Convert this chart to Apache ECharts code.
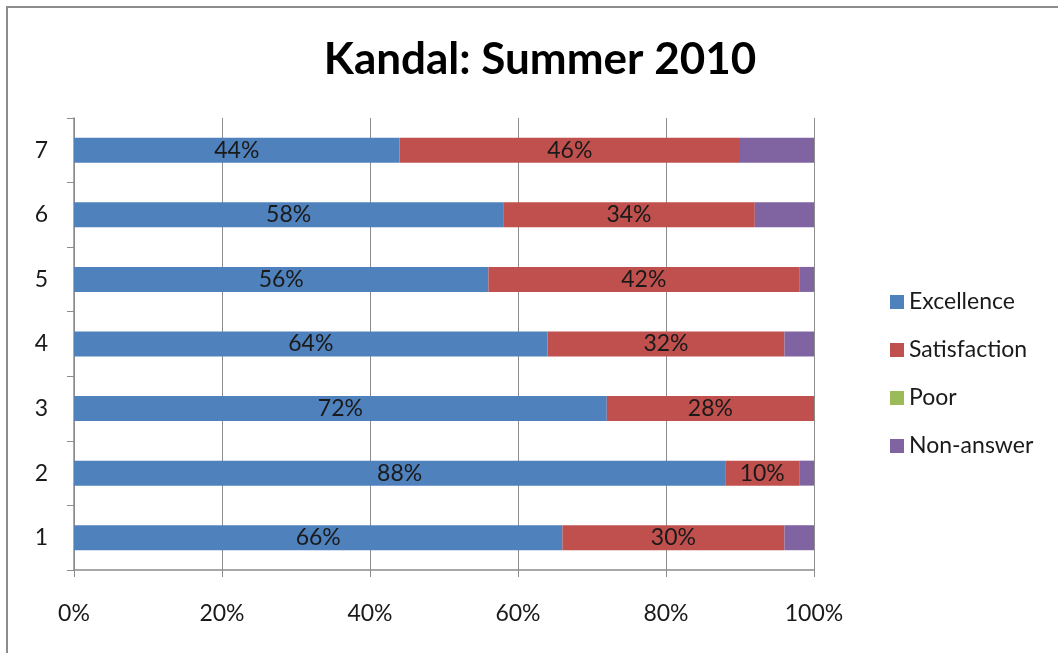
<!DOCTYPE html>
<html>
<head>
<meta charset="utf-8">
<script src="https://cdn.jsdelivr.net/npm/echarts@6/dist/echarts.min.js"></script>
<style>
  html, body { margin: 0; padding: 0; background: #fff; }
  #chart { width: 1058px; height: 653px; }
  .frame { position: absolute; left: 6px; top: 6px; right: -10px; bottom: -10px; border: 2px solid #8c8c8c; pointer-events: none; }
</style>
</head>
<body>
<div id="chart"></div>
<div class="frame"></div>
<script>
// survey rounds, bottom to top
const categories = ['1', '2', '3', '4', '5', '6', '7']
const excellence = [66, 88, 72, 64, 56, 58, 44]
const satisfaction = [30, 10, 28, 32, 42, 34, 46]
const poor = [0, 0, 0, 0, 0, 0, 0]
const nonAnswer = [4, 2, 0, 4, 2, 8, 10]
const xTicks = [0, 20, 40, 60, 80, 100]

const font = 'Lato, "Open Sans", sans-serif'

const labelStyle = {
  show: true,
  position: 'inside',
  color: '#1a1a1a',
  fontSize: 23,
  fontFamily: font,
  formatter: p => p.value > 0 ? p.value + '%' : ''
}

const mkSeries = (name, data, color, withLabel) => ({
  name,
  type: 'bar',
  stack: 'total',
  data,
  barWidth: 25,
  itemStyle: { color },
  label: withLabel ? labelStyle : { show: false }
})

const chart = echarts.init(document.getElementById('chart'))
chart.setOption({
  animation: false,
  title: {
    text: 'Kandal: Summer 2010',
    left: 535,
    top: 33,
    textAlign: 'center',
    textStyle: { fontFamily: font, fontSize: 44, fontWeight: 'bold', color: '#000' }
  },
  legend: {
    orient: 'vertical',
    left: 885,
    top: 285,
    itemWidth: 14,
    itemHeight: 14,
    itemGap: 24,
    icon: 'rect',
    textStyle: { fontFamily: font, fontSize: 23, lineHeight: 24, color: '#1a1a1a' }
  },
  grid: { left: 74, right: 244, top: 118, bottom: 83 },
  xAxis: {
    type: 'value',
    min: xTicks[0],
    max: xTicks[xTicks.length - 1],
    interval: 20,
    axisLine: { show: true, lineStyle: { color: '#8c8c8c', width: 1.5 } },
    axisTick: { show: true, length: 7, lineStyle: { color: '#8c8c8c' } },
    splitLine: { show: true, lineStyle: { color: '#8c8c8c', width: 1 } },
    axisLabel: {
      margin: 32,
      fontFamily: font,
      fontSize: 23,
      color: '#1a1a1a',
      formatter: v => v + '%'
    }
  },
  yAxis: {
    type: 'category',
    data: categories,
    axisLine: { show: true, lineStyle: { color: '#8c8c8c', width: 1.5 } },
    axisTick: { show: true, length: 7, lineStyle: { color: '#8c8c8c' } },
    axisLabel: { margin: 26, fontFamily: font, fontSize: 23, color: '#1a1a1a' }
  },
  series: [
    mkSeries('Excellence', excellence, '#4F81BD', true),
    mkSeries('Satisfaction', satisfaction, '#C0504D', true),
    mkSeries('Poor', poor, '#9BBB59', false),
    mkSeries('Non-answer', nonAnswer, '#8064A2', false)
  ]
})
</script>
</body>
</html>
